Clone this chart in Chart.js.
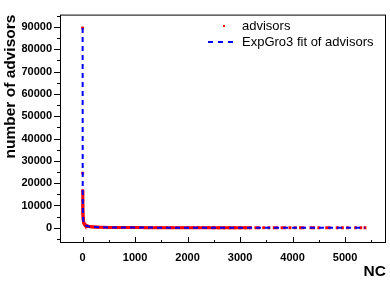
<!DOCTYPE html>
<html>
<head>
<meta charset="utf-8">
<script src="https://cdn.jsdelivr.net/npm/chart.js@4.4.1/dist/chart.umd.min.js"></script>
<style>
    html, body { margin: 0; padding: 0; background: #fff; }
    #wrap { width: 390px; height: 281px; }
</style>
</head>
<body>
<div id="wrap"><canvas id="chart" width="390" height="281"></canvas></div>
<script>
// advisors per NC value
const ncData = [1, 2, 3, 4, 5, 6, 7, 8, 10, 12, 15, 20, 25, 30, 40, 50, 60, 80, 100, 130, 160, 200,
    250, 300, 400, 500, 600, 700, 800, 900, 1000, 1100, 1200, 1300, 1400, 1500, 1600, 1700, 1800,
    1900, 2000, 2100, 2200, 2300, 2400, 2500, 2600, 2700, 2800, 2900, 3000, 3100, 3200,
    3300, 3350, 3450, 3550, 3650, 3700, 3800, 3850, 3950, 4050, 4150, 4200, 4350, 4400, 4500,
    4650, 4700, 4850, 4950, 5050, 5200, 5300, 5380];
const advisors = [89500, 24500, 16600, 12000, 9800, 8300, 7100, 6200, 5000, 4200, 3400, 2700, 2200,
    1900, 1500, 1250, 1050, 850, 700, 560, 470, 400, 330, 280, 220, 180, 155, 135, 120, 105, 95,
    90, 85, 80, 76, 72, 68, 65, 62, 60, 57, 55, 53, 51, 49, 47, 45, 44, 42, 41, 40, 39, 38,
    36, 36, 35, 34, 33, 33, 32, 32, 31, 31, 30, 30, 29, 29, 28, 28, 28, 27, 27, 26, 26, 25, 25];

// ExpGro3 fit curve
const ncFit = [1, 2, 3, 5, 8, 12, 20, 30, 50, 80, 120, 200, 300, 500, 800, 1200, 2000, 3000, 4000, 5380];
const fitValues = [89500, 30000, 16000, 8500, 5200, 3600, 2300, 1650, 1100, 780, 560, 380, 280, 190,
    130, 95, 60, 45, 38, 30];

const xTicks = [0, 1000, 2000, 3000, 4000, 5000];
const yTicks = [0, 10000, 20000, 30000, 40000, 50000, 60000, 70000, 80000, 90000];

const family = "'Liberation Sans', Arial, sans-serif";
const labelFont = { family: family, size: 11, weight: 'bold' };
const titleFont = { family: family, size: 15.5, weight: 'bold' };

function toPoints(xs, ys) {
    return xs.map((x, i) => ({ x: x, y: ys[i] }));
}

// frame, ROOT style tick marks and the legend
const framePlugin = {
    id: 'frame',
    afterDraw(chart) {
        const ctx = chart.ctx;
        const a = chart.chartArea;
        const xs = chart.scales.x;
        const ys = chart.scales.y;
        ctx.save();
        ctx.strokeStyle = '#000';
        ctx.lineWidth = 1;
        ctx.strokeRect(a.left + 0.5, a.top + 0.5, a.right - a.left - 1, a.bottom - a.top - 1);

        ctx.beginPath();
        for (let v = -5000; v <= ys.max; v += 5000) {
            const py = Math.round(ys.getPixelForValue(v)) + 0.5;
            const len = v % 10000 === 0 ? 6 : 3;
            ctx.moveTo(a.left - len, py);
            ctx.lineTo(a.left, py);
        }
        for (let v = 0; v <= xs.max; v += 500) {
            const px = Math.round(xs.getPixelForValue(v)) + 0.5;
            const len = v % 1000 === 0 ? 6 : 3;
            ctx.moveTo(px, a.bottom);
            ctx.lineTo(px, a.bottom - len);
        }
        ctx.stroke();

        // legend
        const ds = chart.data.datasets;
        ctx.font = "13px " + family;
        ctx.textBaseline = 'middle';
        ctx.fillStyle = '#000';
        ctx.fillText(ds[1].label, 242, 26);
        ctx.fillText(ds[0].label, 242, 42);
        ctx.fillStyle = 'red';
        ctx.fillRect(223, 25, 2, 2);
        ctx.strokeStyle = 'blue';
        ctx.lineWidth = 2;
        ctx.setLineDash([5, 5]);
        ctx.beginPath();
        ctx.moveTo(208, 42);
        ctx.lineTo(236, 42);
        ctx.stroke();
        ctx.restore();
    }
};

new Chart(document.getElementById('chart'), {
    type: 'scatter',
    data: {
        datasets: [
            {
                label: 'ExpGro3 fit of advisors',
                data: toPoints(ncFit, fitValues),
                showLine: true,
                borderColor: 'blue',
                borderWidth: 2,
                borderDash: [5, 4],
                pointRadius: 0,
                order: 0
            },
            {
                label: 'advisors',
                data: toPoints(ncData, advisors),
                showLine: true,
                borderColor: 'red',
                borderWidth: 3,
                backgroundColor: 'red',
                pointBackgroundColor: 'red',
                pointBorderWidth: 0,
                pointStyle: 'rect',
                pointRadius: 2,
                segment: {
                    // only the dense run of points reads as a solid band
                    borderColor: c => (c.p0.parsed.x >= 3200 || c.p0.parsed.y > 20000) ? 'rgba(0,0,0,0)' : 'red'
                },
                order: 1
            }
        ]
    },
    options: {
        responsive: false,
        animation: false,
        layout: { padding: { top: 3, right: 2, left: 0, bottom: 0 } },
        plugins: {
            legend: { display: false },
            tooltip: { enabled: false }
        },
        scales: {
            x: {
                type: 'linear',
                min: -430,
                max: 5780,
                afterFit: s => { s.height = 38; },
                afterBuildTicks: s => { s.ticks = xTicks.map(v => ({ value: v })); },
                grid: { display: false, drawTicks: false },
                border: { display: false },
                ticks: { color: '#000', font: labelFont, padding: 8, maxRotation: 0, callback: v => String(v) },
                title: { display: true, text: 'NC', align: 'end', color: '#000', font: titleFont, padding: { top: 0, bottom: 0 } }
            },
            y: {
                type: 'linear',
                min: -6800,
                max: 95500,
                afterFit: s => { s.width = 60; },
                afterBuildTicks: s => { s.ticks = yTicks.map(v => ({ value: v })); },
                grid: { display: false, drawTicks: false },
                border: { display: false },
                ticks: { color: '#000', font: labelFont, padding: 8, callback: v => String(v) },
                title: { display: true, text: 'number of advisors', align: 'end', color: '#000', font: titleFont, padding: { top: 1, bottom: 0 } }
            }
        }
    },
    plugins: [framePlugin]
});
</script>
</body>
</html>
